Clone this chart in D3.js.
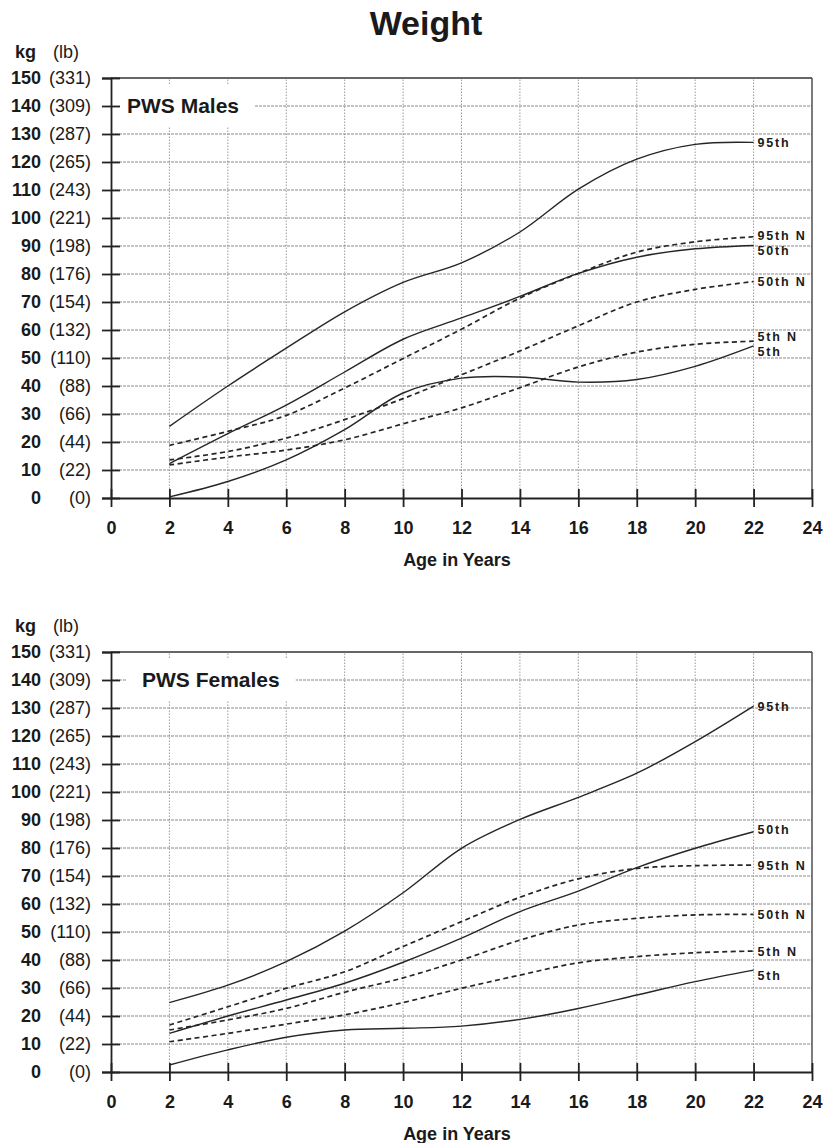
<!DOCTYPE html>
<html>
<head>
<meta charset="utf-8">
<script src="https://cdn.jsdelivr.net/npm/d3@7"></script>
<style>
  body { margin: 0; background: #fff; }
  svg { display: block; font-family: "Liberation Sans", Arial, sans-serif; }
</style>
</head>
<body>
<div id="chart"></div>
<script>
const ages = [2, 4, 6, 8, 10, 12, 14, 16, 18, 20, 22]

// PWS males, kg
const maleP95 = [25.6, 40, 53.5, 66.5, 77, 84, 95, 110.3, 121, 126.3, 127]
const maleP50 = [12.3, 23, 33.2, 45, 56.7, 64.3, 72, 80.2, 86, 89, 90.2]
const maleP5 = [0.4, 5.9, 13.6, 24.4, 37.5, 42.8, 43.2, 41.4, 42.3, 47, 54.3]
const maleP95N = [18.8, 23.8, 29.5, 39.3, 49.8, 60.3, 71.4, 80.2, 87.8, 91.5, 93.3]
const maleP50N = [13.6, 16.6, 21.4, 28, 35.5, 44, 52.5, 61.5, 70, 74.5, 77.3]
const maleP5N = [11.8, 14.6, 17.1, 20.8, 26.5, 32.2, 39.4, 46.8, 52.1, 54.9, 56]

// PWS females, kg
const femaleP95 = [24.8, 31, 39.4, 50.3, 64, 79.9, 90.2, 98.1, 106.7, 118, 130.7]
const femaleP50 = [13.8, 20, 25.7, 31.7, 39.2, 47.8, 57.3, 64.6, 73, 79.9, 85.8]
const femaleP5 = [2.5, 7.9, 12.4, 15, 15.6, 16.4, 18.8, 22.7, 27.5, 32.3, 36.4]
const femaleP95N = [16.8, 23.3, 29.9, 35.8, 44.8, 53.7, 62.4, 69, 72.7, 73.7, 73.9]
const femaleP50N = [15, 18.6, 22.7, 28.5, 33.6, 40, 47.1, 52.5, 54.9, 56.1, 56.3]
const femaleP5N = [10.8, 13.8, 17.1, 20.4, 24.8, 29.9, 34.6, 39, 41.2, 42.6, 43.2]

// axis ticks
const kgTicks = d3.range(0, 151, 10)
const lbTicks = [0, 22, 44, 66, 88, 110, 132, 154, 176, 198, 221, 243, 265, 287, 309, 331]
const ageTicks = d3.range(0, 25, 2)

const W = 835, H = 1143
const svg = d3.select('#chart').append('svg')
  .attr('width', W)
  .attr('height', H)

svg.append('text')
  .attr('x', 426)
  .attr('y', 35)
  .attr('text-anchor', 'middle')
  .style('font-size', '34px')
  .style('font-weight', 'bold')
  .style('fill', '#1a1a1a')
  .text('Weight')

function drawPanel (conf) {
  const x = d3.scaleLinear().domain([0, 24]).range([111, 812])
  const y = d3.scaleLinear().domain([0, 150]).range([conf.bottom, conf.bottom - 420])
  const g = svg.append('g')

  // grid
  g.append('g').selectAll('line')
    .data(ageTicks.filter(d => d > 0 && d < 24))
    .join('line')
    .attr('x1', d => x(d)).attr('x2', d => x(d))
    .attr('y1', y(0)).attr('y2', y(150))
    .style('stroke', '#9a9a9a')
    .style('stroke-width', 1)
    .style('stroke-dasharray', '1.5,1.5')
  g.append('g').selectAll('line')
    .data(kgTicks.filter(d => d > 0 && d < 150))
    .join('line')
    .attr('x1', x(0)).attr('x2', x(24))
    .attr('y1', d => y(d)).attr('y2', d => y(d))
    .style('stroke', '#8a8a8a')
    .style('stroke-width', 1.2)
    .style('stroke-dasharray', '3,1')

  // frame top + right
  g.append('line')
    .attr('x1', x(0)).attr('x2', x(24)).attr('y1', y(150)).attr('y2', y(150))
    .style('stroke', '#333').style('stroke-width', 1.6)
  g.append('line')
    .attr('x1', x(24)).attr('x2', x(24)).attr('y1', y(150)).attr('y2', y(0))
    .style('stroke', '#444').style('stroke-width', 1.4)

  // panel label with white box
  const lab = g.append('text')
    .attr('x', conf.labelX)
    .attr('y', y(140) + 7)
    .style('font-size', '21px')
    .style('font-weight', 'bold')
    .style('fill', '#1a1a1a')
    .text(conf.label)
  const bb = lab.node().getBBox()
  g.insert('rect', 'text')
    .attr('x', bb.x - 16)
    .attr('y', bb.y - 9)
    .attr('width', bb.width + 32)
    .attr('height', bb.height + 18)
    .style('fill', '#fff')

  // axes
  const yAxis = g.append('g')
    .attr('transform', `translate(${x(0)},0)`)
    .call(d3.axisLeft(y).tickValues(kgTicks).tickSize(9).tickFormat(''))
  yAxis.selectAll('.tick line').attr('x1', 9)
  yAxis.selectAll('line, path').style('stroke', '#222').style('stroke-width', 1.8)

  const xAxis = g.append('g')
    .attr('transform', `translate(0,${y(0)})`)
    .call(d3.axisBottom(x).tickValues(ageTicks).tickSize(9).tickSizeOuter(0))
  xAxis.selectAll('.tick line').attr('y1', -9)
  xAxis.selectAll('line, path').style('stroke', '#222').style('stroke-width', 1.8)
  xAxis.selectAll('.tick text')
    .attr('y', 30).attr('dy', '0.35em')
    .style('font-size', '18px')
    .style('font-weight', 'bold')
    .style('font-family', '"Liberation Sans", Arial, sans-serif')
    .style('fill', '#1a1a1a')

  // two-column y labels: kg (lb)
  const yl = g.append('g')
  yl.selectAll('text.kg')
    .data(kgTicks)
    .join('text')
    .attr('class', 'kg')
    .attr('x', 41)
    .attr('y', d => y(d))
    .attr('dy', '0.35em')
    .attr('text-anchor', 'end')
    .style('font-size', '18px')
    .style('font-weight', 'bold')
    .style('fill', '#1a1a1a')
    .text(d => d)
  yl.selectAll('text.lb')
    .data(lbTicks)
    .join('text')
    .attr('class', 'lb')
    .attr('x', 91)
    .attr('y', (d, i) => y(kgTicks[i]))
    .attr('dy', '0.35em')
    .attr('text-anchor', 'end')
    .style('font-size', '18px')
    .style('fill', '#1a1a1a')
    .text(d => `(${d})`)

  const head = g.append('text')
    .attr('x', 15)
    .attr('y', y(150) - 20)
    .style('font-size', '18px')
    .style('fill', '#1a1a1a')
  head.append('tspan').style('font-weight', 'bold').text('kg')
  head.append('tspan').attr('x', 53).text('(lb)')

  g.append('text')
    .attr('x', 457)
    .attr('y', y(0) + 62)
    .attr('dy', '0.35em')
    .attr('text-anchor', 'middle')
    .style('font-size', '18px')
    .style('font-weight', 'bold')
    .style('fill', '#1a1a1a')
    .text('Age in Years')

  // curves
  const line = d3.line()
    .x((d, i) => x(ages[i]))
    .y(d => y(d))
    .curve(d3.curveCatmullRom.alpha(0.5))

  conf.series.forEach(s => {
    g.append('path')
      .attr('d', line(s.values))
      .style('fill', 'none')
      .style('stroke', '#262626')
      .style('stroke-width', s.dashed ? 1.7 : 1.4)
      .style('stroke-dasharray', s.dashed ? '5,3.5' : null)
    g.append('text')
      .attr('x', x(22) + 4)
      .attr('y', y(s.values[s.values.length - 1]) + (s.dy || 0))
      .attr('dy', '0.36em')
      .style('font-size', '12.5px')
      .style('font-weight', 'bold')
      .style('letter-spacing', '1.8px')
      .style('fill', '#1a1a1a')
      .text(s.name)
  })
}

drawPanel({
  bottom: 498,
  label: 'PWS Males',
  labelX: 127,
  series: [
    {name: '95th', values: maleP95},
    {name: '50th', values: maleP50, dy: 5},
    {name: '5th', values: maleP5, dy: 6},
    {name: '95th N', values: maleP95N, dashed: true, dy: -1},
    {name: '50th N', values: maleP50N, dashed: true},
    {name: '5th N', values: maleP5N, dashed: true, dy: -5}
  ]
})

drawPanel({
  bottom: 1072,
  label: 'PWS Females',
  labelX: 142,
  series: [
    {name: '95th', values: femaleP95},
    {name: '50th', values: femaleP50, dy: -2},
    {name: '5th', values: femaleP5, dy: 5},
    {name: '95th N', values: femaleP95N, dashed: true},
    {name: '50th N', values: femaleP50N, dashed: true},
    {name: '5th N', values: femaleP5N, dashed: true}
  ]
})
</script>
</body>
</html>
